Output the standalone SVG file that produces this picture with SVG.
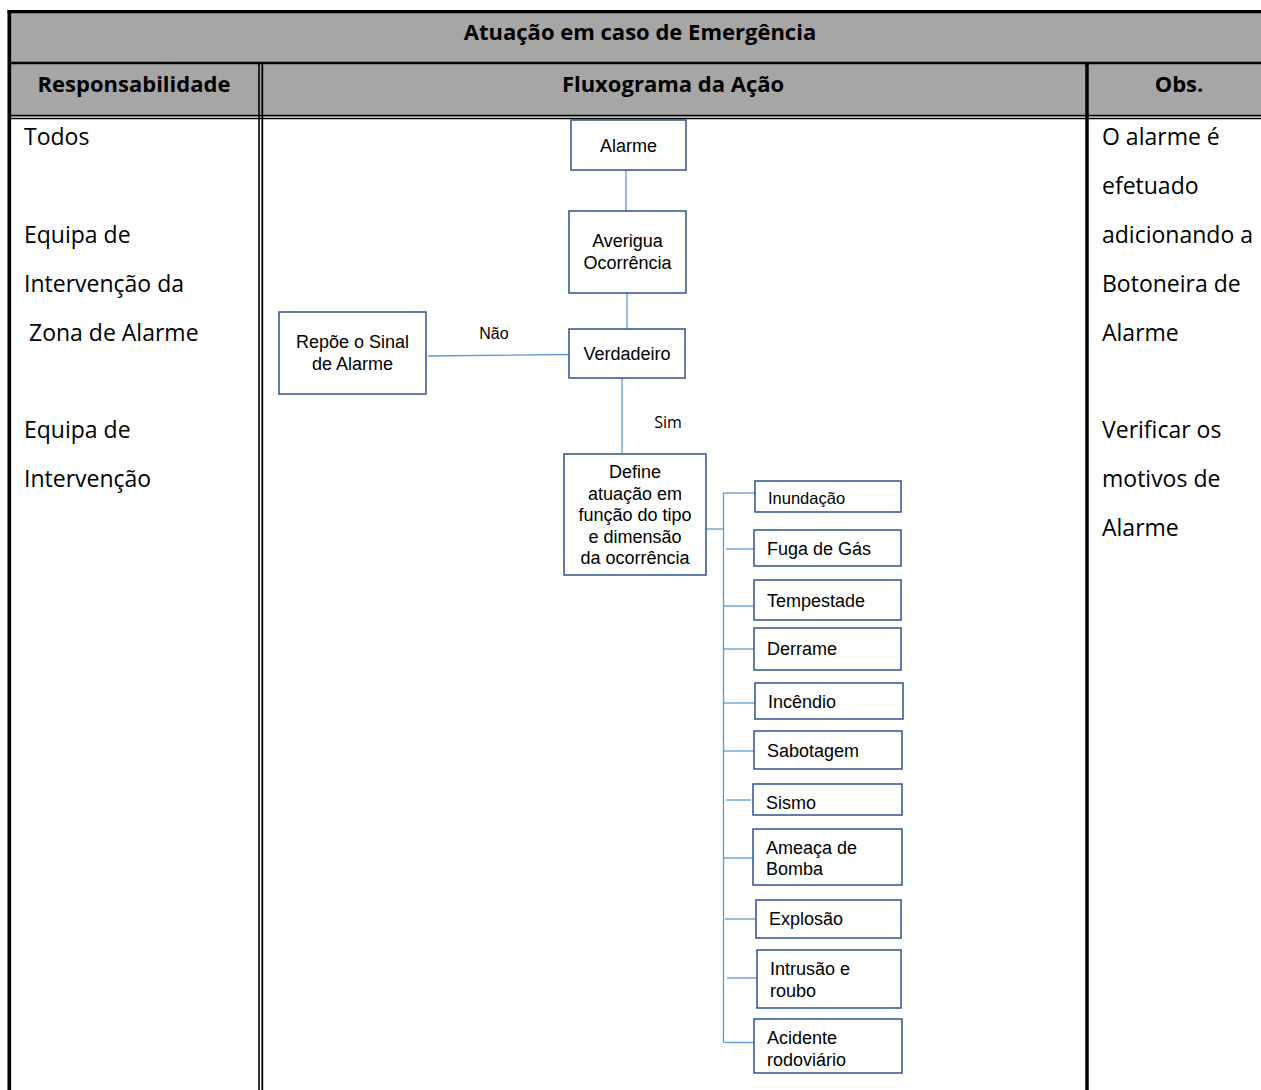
<svg xmlns="http://www.w3.org/2000/svg" width="1261" height="1090" viewBox="0 0 1261 1090">
<style>
.hdr{font-family:"Open Sans","Liberation Sans",sans-serif;font-weight:bold;font-size:22px;fill:#000;text-anchor:middle}
.body{font-family:"Open Sans","Liberation Sans",sans-serif;font-size:23px;fill:#000}
.box{fill:#fff;stroke:#2f528f;stroke-width:1.5}
.t{font-family:"Liberation Sans",Arial,sans-serif;font-size:18px;fill:#000}
.c{text-anchor:middle}
.conn{stroke:#5b9bd5;stroke-width:1.3;fill:none}
.tb{stroke:#000;fill:none}
</style>
<rect width="1261" height="1090" fill="#fff"/>
<g id="table">
<rect x="11" y="13" width="1250" height="102" fill="#a6a6a6"/>
<line class="tb" x1="7.5" y1="11.7" x2="1261" y2="11.7" stroke-width="3.3"/>
<line class="tb" x1="9.3" y1="10" x2="9.3" y2="1090" stroke-width="3.7"/>
<line class="tb" x1="11" y1="63" x2="1261" y2="63" stroke-width="2.4"/>
<line class="tb" x1="11" y1="115.6" x2="1261" y2="115.6" stroke-width="1.6"/>
<line class="tb" x1="11" y1="118.5" x2="1261" y2="118.5" stroke-width="1.6"/>
<line class="tb" x1="259" y1="64" x2="259" y2="1090" stroke-width="1.6"/>
<line class="tb" x1="262.3" y1="64" x2="262.3" y2="1090" stroke-width="1.8"/>
<line class="tb" x1="1087" y1="64" x2="1087" y2="1090" stroke-width="3.5"/>
<text class="hdr" x="640" y="40">Atuação em caso de Emergência</text>
<text class="hdr" x="134" y="92">Responsabilidade</text>
<text class="hdr" x="673" y="92">Fluxograma da Ação</text>
<text class="hdr" x="1179" y="92">Obs.</text>
<text class="body" x="24" y="145">Todos</text>
<text class="body" x="24" y="243">Equipa de</text>
<text class="body" x="24" y="292">Intervenção da</text>
<text class="body" x="29" y="341">Zona de Alarme</text>
<text class="body" x="24" y="438">Equipa de</text>
<text class="body" x="24" y="487">Intervenção</text>
<text class="body" x="1102" y="145">O alarme é</text>
<text class="body" x="1102" y="194">efetuado</text>
<text class="body" x="1102" y="243">adicionando a</text>
<text class="body" x="1102" y="292">Botoneira de</text>
<text class="body" x="1102" y="341">Alarme</text>
<text class="body" x="1102" y="438">Verificar os</text>
<text class="body" x="1102" y="487">motivos de</text>
<text class="body" x="1102" y="536">Alarme</text>
</g>
<g id="connectors">
<line class="conn" x1="626" y1="170" x2="626" y2="211"/>
<line class="conn" x1="627" y1="293" x2="627" y2="329"/>
<line class="conn" x1="622" y1="378" x2="622" y2="453"/>
<line class="conn" x1="428" y1="356" x2="569" y2="354.5"/>
<line class="conn" x1="706" y1="529" x2="723.5" y2="529"/>
<line class="conn" x1="723.5" y1="493" x2="723.5" y2="1042.5"/>
<line class="conn" x1="723.5" y1="493" x2="755" y2="493"/>
<line class="conn" x1="726" y1="549" x2="754" y2="549"/>
<line class="conn" x1="723.5" y1="606" x2="755" y2="606"/>
<line class="conn" x1="723.5" y1="649" x2="754" y2="649"/>
<line class="conn" x1="723.5" y1="703" x2="755" y2="703"/>
<line class="conn" x1="723.5" y1="751" x2="754" y2="751"/>
<line class="conn" x1="726" y1="800" x2="751" y2="800"/>
<line class="conn" x1="723.5" y1="858" x2="753" y2="858"/>
<line class="conn" x1="725" y1="919" x2="756" y2="919"/>
<line class="conn" x1="727" y1="978" x2="757" y2="978"/>
<line class="conn" x1="723.5" y1="1042.5" x2="754" y2="1042.5"/>
<text class="t" x="494" y="339" style="font-size:16px" text-anchor="middle">Não</text>
<text x="668" y="428" style="font-family:'Open Sans','Liberation Sans',sans-serif;font-size:16px" text-anchor="middle">Sim</text>
</g>
<g id="n-alarme"><rect class="box" x="571" y="120" width="115" height="50"/><text class="t c" x="628.5" y="152">Alarme</text></g>
<g id="n-averigua"><rect class="box" x="569" y="211" width="117" height="82"/><text class="t c" x="627.5" y="247">Averigua</text><text class="t c" x="627.5" y="269">Ocorrência</text></g>
<g id="n-verdadeiro"><rect class="box" x="569" y="329" width="116" height="49"/><text class="t c" x="627" y="360">Verdadeiro</text></g>
<g id="n-repoe"><rect class="box" x="279" y="312" width="147" height="82"/><text class="t c" x="352.5" y="348">Repõe o Sinal</text><text class="t c" x="352.5" y="370">de Alarme</text></g>
<g id="n-define"><rect class="box" x="564" y="454" width="142" height="121"/>
<text class="t c" x="635" y="478">Define</text><text class="t c" x="635" y="500">atuação em</text><text class="t c" x="635" y="521">função do tipo</text><text class="t c" x="635" y="543">e dimensão</text><text class="t c" x="635" y="564">da ocorrência</text></g>
<g id="n-inundacao"><rect class="box" x="755" y="481" width="146" height="31"/><text class="t" x="768" y="504" style="font-size:16.5px">Inundação</text></g>
<g id="n-fuga"><rect class="box" x="754" y="530" width="147" height="36"/><text class="t" x="767" y="555">Fuga de Gás</text></g>
<g id="n-tempestade"><rect class="box" x="754" y="580" width="147" height="40"/><text class="t" x="767" y="607">Tempestade</text></g>
<g id="n-derrame"><rect class="box" x="754" y="628" width="147" height="42"/><text class="t" x="767" y="655">Derrame</text></g>
<g id="n-incendio"><rect class="box" x="755" y="683" width="148" height="36"/><text class="t" x="768" y="708">Incêndio</text></g>
<g id="n-sabotagem"><rect class="box" x="754" y="731" width="148" height="38"/><text class="t" x="767" y="757">Sabotagem</text></g>
<g id="n-sismo"><rect class="box" x="753" y="784" width="149" height="31"/><text class="t" x="766" y="809">Sismo</text></g>
<g id="n-ameaca"><rect class="box" x="753" y="829" width="149" height="56"/><text class="t" x="766" y="854">Ameaça de</text><text class="t" x="766" y="875">Bomba</text></g>
<g id="n-explosao"><rect class="box" x="756" y="900" width="145" height="38"/><text class="t" x="769" y="925">Explosão</text></g>
<g id="n-intrusao"><rect class="box" x="757" y="950" width="144" height="58"/><text class="t" x="770" y="975">Intrusão e</text><text class="t" x="770" y="997">roubo</text></g>
<g id="n-acidente"><rect class="box" x="754" y="1019" width="148" height="54"/><text class="t" x="767" y="1044">Acidente</text><text class="t" x="767" y="1066">rodoviário</text></g>
</svg>
